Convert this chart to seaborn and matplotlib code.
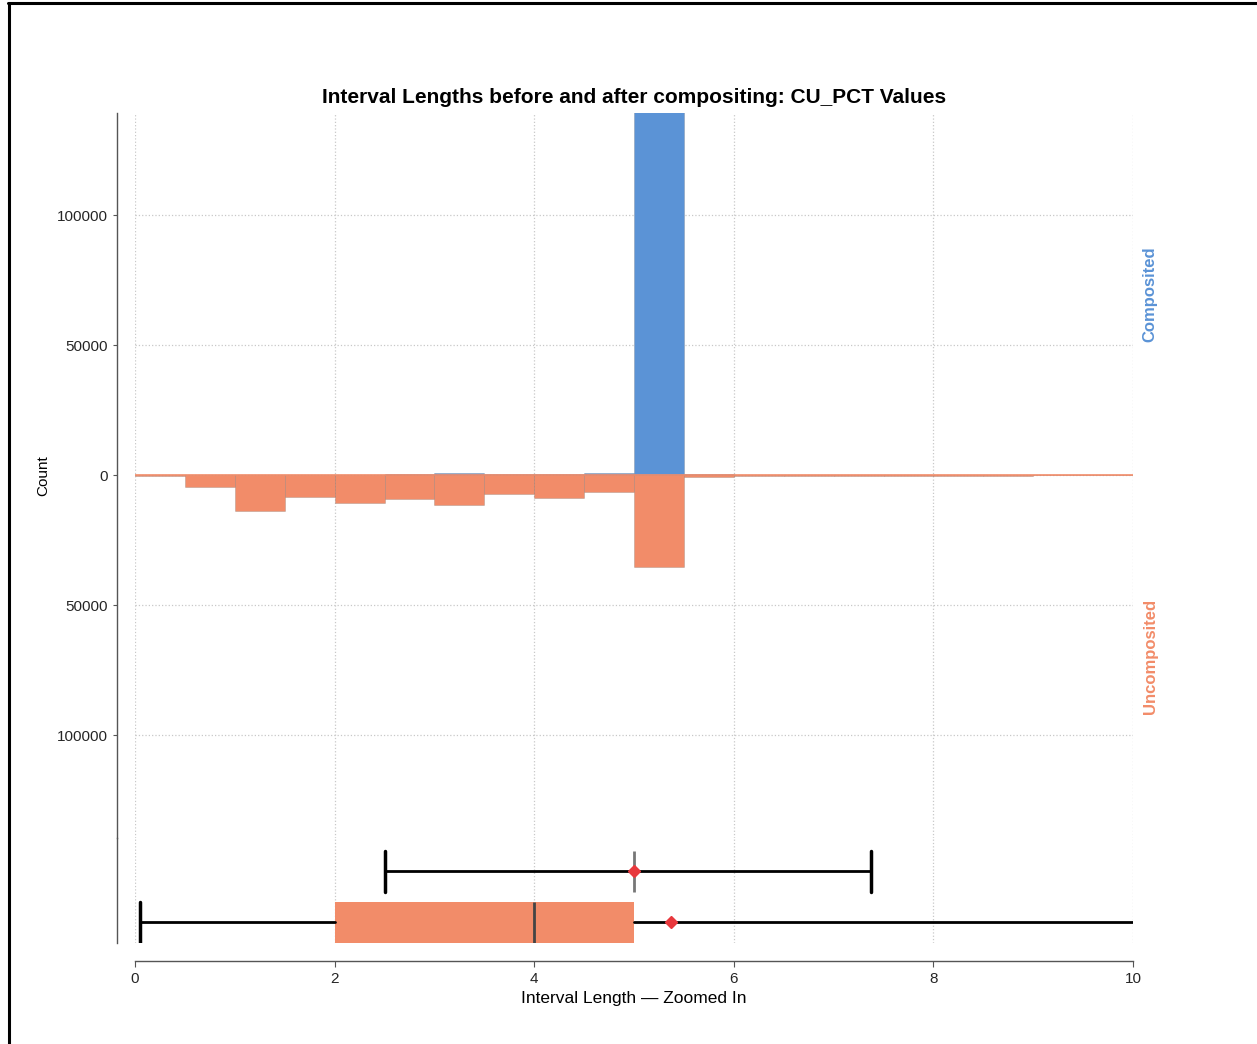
import numpy as np
import seaborn as sns
import matplotlib.pyplot as plt
from matplotlib.lines import Line2D

# histogram bins (interval length) and counts
bin_edges = [0.0, 0.5, 1.0, 1.5, 2.0, 2.5, 3.0, 3.5, 4.0, 4.5, 5.0,
             5.5, 6.0, 6.5, 7.0, 7.5, 8.0, 8.5, 9.0, 9.5, 10.0]
composited_counts = [0, 0, 0, 0, 0, 600, 700, 500, 600, 700, 200000,
                     500, 200, 200, 200, 50, 50, 50, 50, 50]
uncomposited_counts = [400, 4700, 13800, 8500, 10800, 9200, 11500, 7400, 8600, 6500, 35400,
                       700, 300, 300, 200, 200, 150, 150, 100, 100]

# box plot summaries (whislo, q1, med, q3, whishi, mean)
box_labels = ['Composited', 'Uncomposited']
box_whislo = [2.5, 0.05]
box_q1 = [5.0, 2.0]
box_med = [5.0, 4.0]
box_q3 = [5.0, 5.0]
box_whishi = [7.37, 12.0]
box_mean = [5.0, 5.37]

y_ticks = [-100000, -50000, 0, 50000, 100000]
x_ticks = [0, 2, 4, 6, 8, 10]

blue = '#5B93D6'
orange = '#F28C69'

sns.set_theme(style='ticks')
plt.rcParams['font.family'] = ['Liberation Sans', 'DejaVu Sans']
plt.rcParams['text.color'] = 'black'
plt.rcParams['axes.labelcolor'] = 'black'

fig = plt.figure(figsize=(12.57, 10.44), dpi=100)
ax = fig.add_axes([0.1074, 0.1973, 0.7940, 0.6945])
axb = fig.add_axes([0.1074, 0.0967, 0.7940, 0.1006], sharex=ax)

centers = (np.array(bin_edges[:-1]) + np.array(bin_edges[1:])) / 2
edge = (0.35, 0.35, 0.35, 0.25)
sns.histplot(x=centers, weights=composited_counts, bins=bin_edges, ax=ax,
             color=blue, alpha=1, edgecolor=edge, linewidth=0.6)
sns.histplot(x=centers, weights=-np.array(uncomposited_counts), bins=bin_edges, ax=ax,
             color=orange, alpha=1, edgecolor=edge, linewidth=0.6)
ax.axhline(0, color=orange, lw=1.2, zorder=1)

ax.set_xlim(0, 10)
ax.set_ylim(-139500, 139300)
ax.set_yticks(y_ticks)
ax.set_yticklabels([str(abs(v)) for v in y_ticks], fontsize=8.5)
ax.set_ylabel('Count', fontsize=11, labelpad=5)
ax.set_xlabel('')
ax.grid(True, linestyle=':', color='#c8c8c8', lw=0.9)
ax.set_axisbelow(True)
ax.tick_params(axis='x', bottom=False, labelbottom=False)
ax.tick_params(axis='y', length=3, width=0.8, color='#555555')
ax.set_title('Interval Lengths before and after compositing: CU_PCT Values',
             fontsize=15, fontweight='bold', pad=7, color='black')
ax.text(1.017, 0.75, 'Composited', transform=ax.transAxes, rotation=90,
        color=blue, fontsize=12, fontweight='bold', ha='center', va='center')
ax.text(1.017, 0.25, 'Uncomposited', transform=ax.transAxes, rotation=90,
        color=orange, fontsize=12, fontweight='bold', ha='center', va='center')

stats = []
for i in range(2):
    stats.append(dict(label=box_labels[i], whislo=box_whislo[i], q1=box_q1[i], med=box_med[i],
                      q3=box_q3[i], whishi=box_whishi[i], mean=box_mean[i], fliers=[]))
bp = axb.bxp(stats, positions=[0, 1], widths=0.8, capwidths=0.8, orientation='horizontal',
             patch_artist=True, showmeans=True, showfliers=False,
             whiskerprops=dict(color='black', lw=2),
             capprops=dict(color='black', lw=2.5),
             medianprops=dict(color='#444444', lw=2),
             meanprops=dict(marker='D', markerfacecolor='#E8383D', markeredgecolor='#E8383D', markersize=6),
             boxprops=dict(lw=0))
for patch, c in zip(bp['boxes'], [blue, orange]):
    patch.set_facecolor(c)
bp['medians'][0].set_color('#777777')
axb.set_ylim(1.41, -0.65)
axb.set_yticks([])
axb.set_xticks(x_ticks)
axb.set_xticklabels([str(v) for v in x_ticks], fontsize=8.5)
axb.set_xlabel('Interval Length \u2014 Zoomed In', fontsize=12.5)
axb.grid(True, axis='x', linestyle=':', color='#c8c8c8', lw=0.9)
axb.set_axisbelow(True)
axb.tick_params(axis='x', length=4, width=0.8, color='#555555')

sns.despine(ax=ax, bottom=True, offset=13)
sns.despine(ax=axb, offset=13)
for a in (ax, axb):
    for s in a.spines.values():
        s.set_color('#555555')
        s.set_linewidth(1)

# screenshot border (top and left)
fig.add_artist(Line2D([8 / 1257, 1], [1 - 3 / 1044, 1 - 3 / 1044], color='black', lw=2.2,
                      transform=fig.transFigure))
fig.add_artist(Line2D([9 / 1257, 9 / 1257], [0, 1 - 3 / 1044], color='black', lw=2.2,
                      transform=fig.transFigure))

fig.savefig('out.png', dpi=100)
